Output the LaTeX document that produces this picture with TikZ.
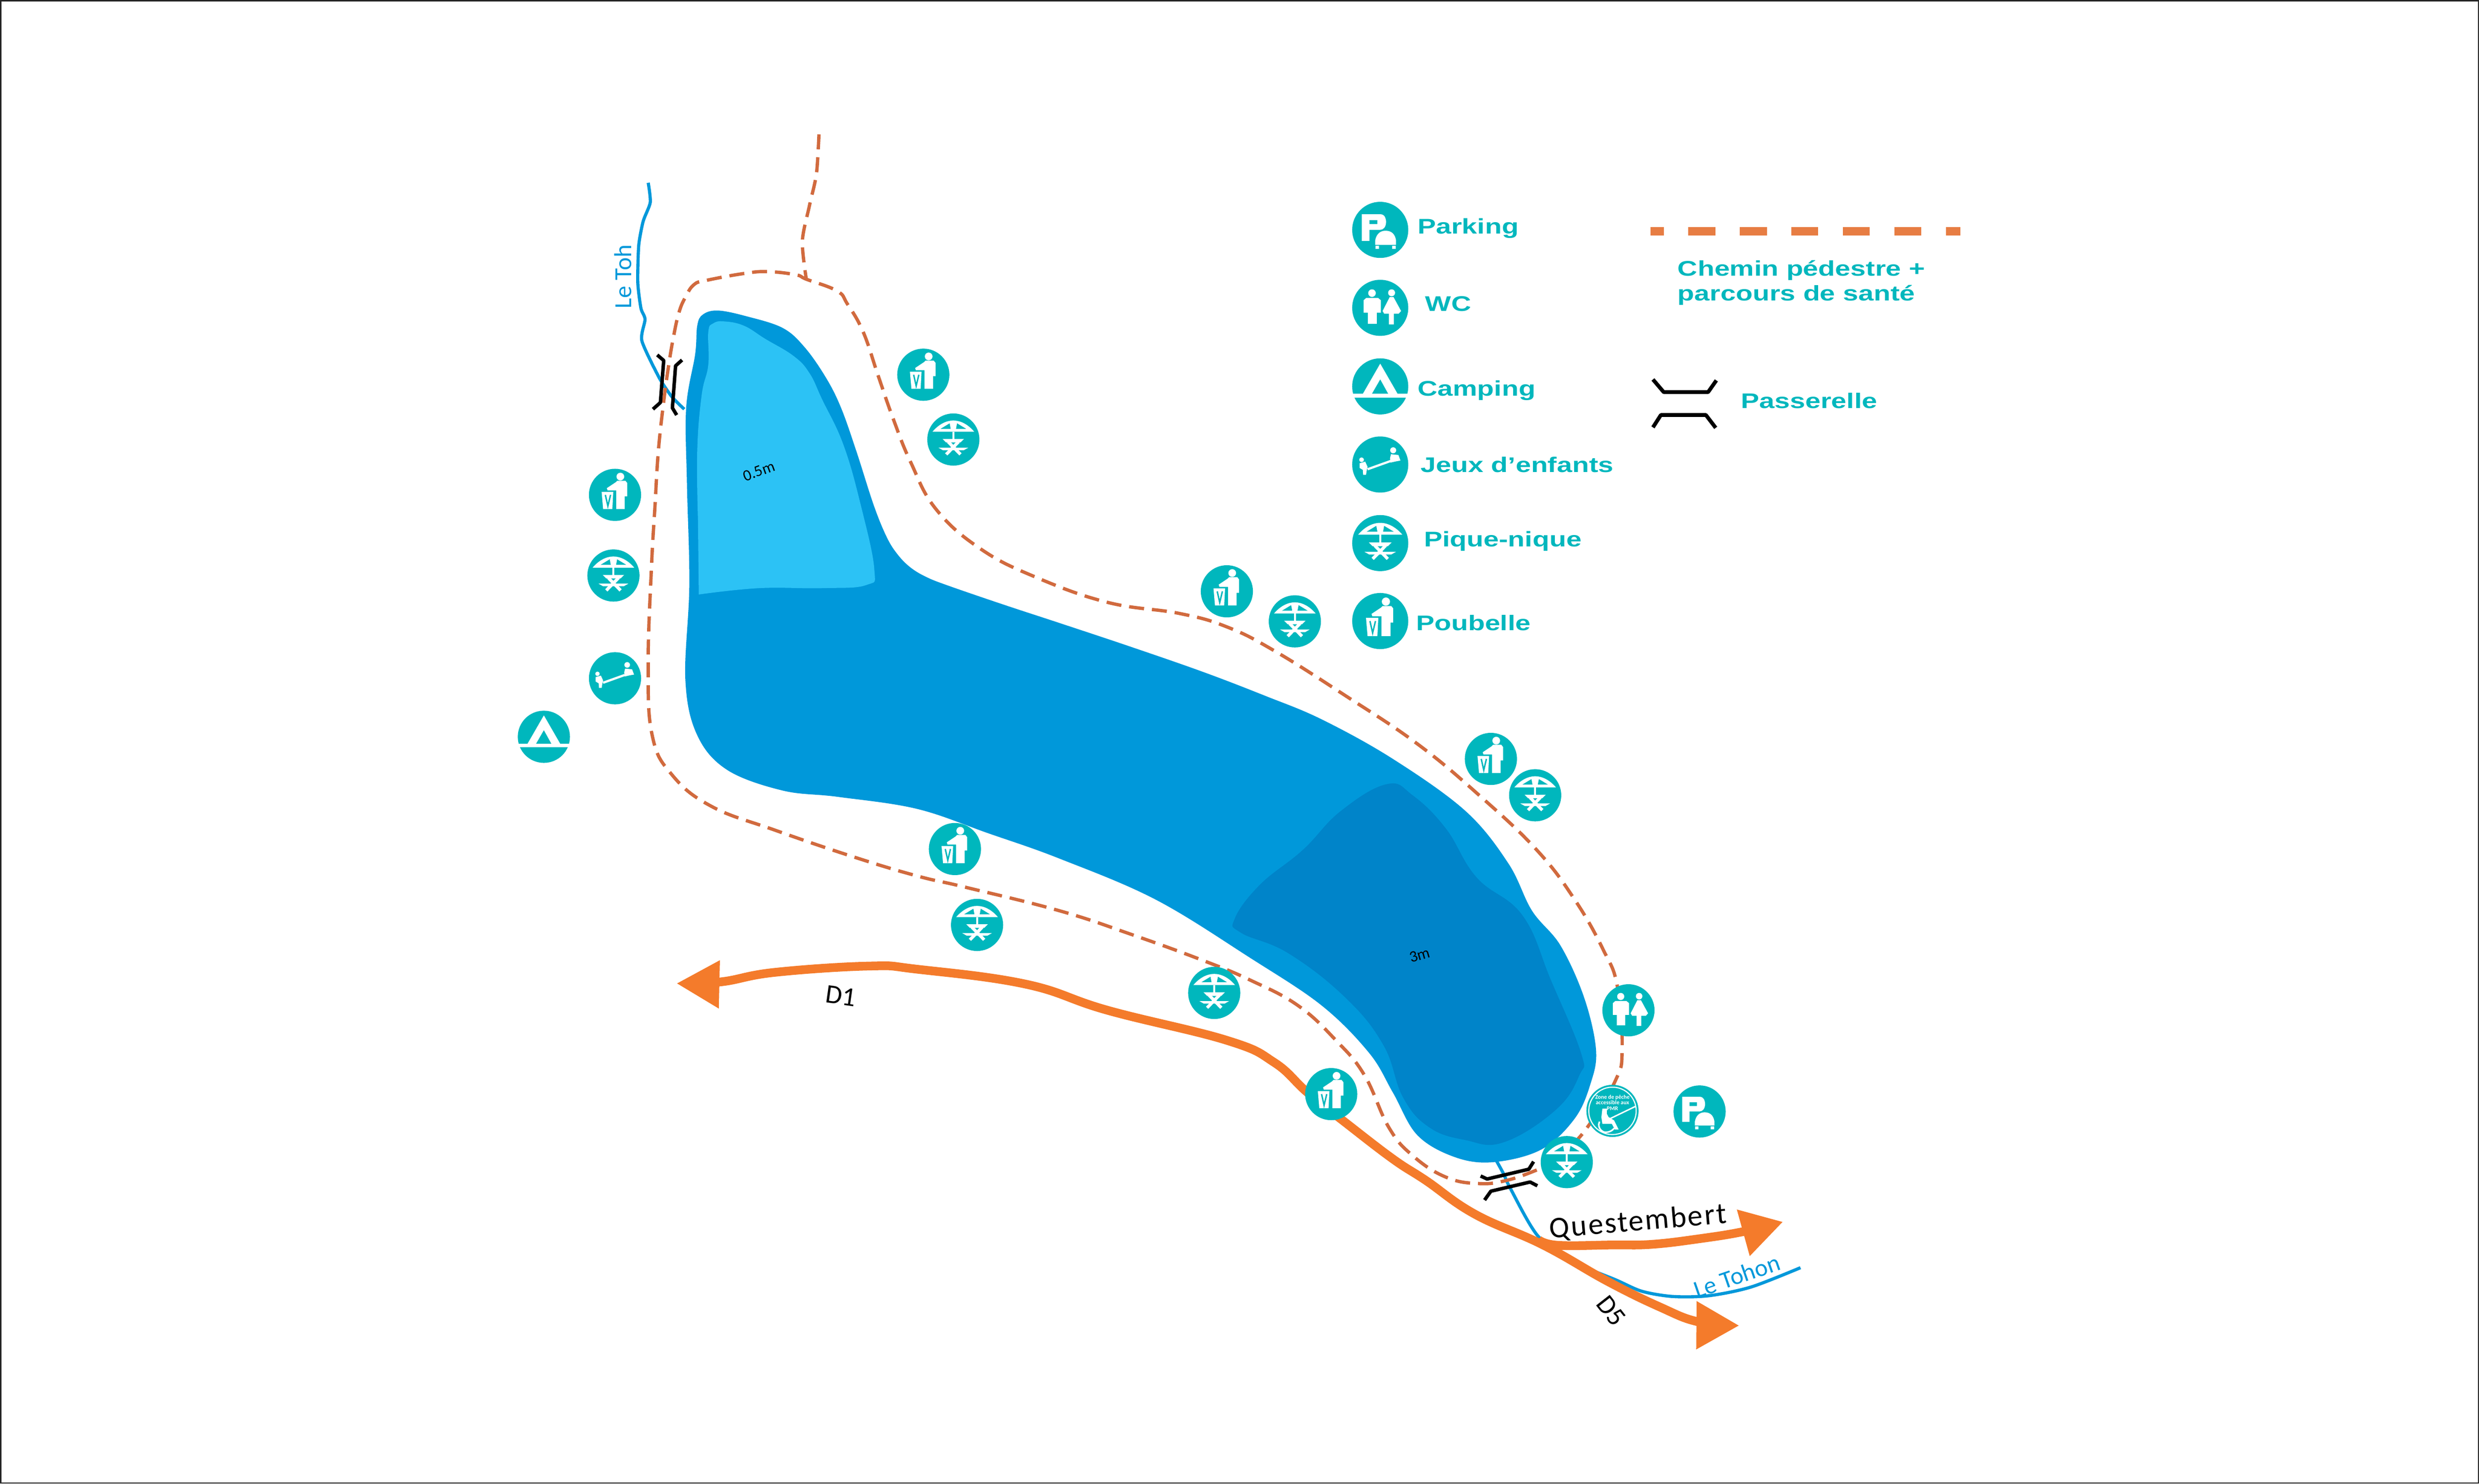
\documentclass[tikz,border=0pt]{standalone}
\usepackage{fontspec}
\usetikzlibrary{arrows.meta}
\setmainfont{Carlito}
\newfontfamily\legendfont[FakeStretch=1.3]{Liberation Sans}
\definecolor{signteal}{HTML}{00B7BD}
\definecolor{lakeblue}{HTML}{0098DA}
\definecolor{lakedeep}{HTML}{0084C9}
\definecolor{lakeshallow}{HTML}{2CC2F5}
\definecolor{roadorange}{HTML}{F47B2B}
\definecolor{pathorange}{HTML}{D16A3E}
\definecolor{keyorange}{HTML}{E77D43}
\tikzstyle{sign} = [circle, fill=signteal, inner sep = 0pt, minimum size = 33pt]
\tikzstyle{keysign} = [circle, fill=signteal, inner sep = 0pt, minimum size = 35.5pt]
\tikzstyle{keytext} = [anchor=base west, inner sep = 0pt, text=signteal, font=\legendfont\bfseries\fontsize{13.4}{15}\selectfont]
\tikzstyle{maptext} = [inner sep = 0pt, text=black]
\tikzstyle{rivertext} = [inner sep = 0pt, text=lakeblue]
\tikzstyle{walkway} = [draw=pathorange, line width=2.1pt, dash pattern=on 9.5pt off 5pt]
\tikzstyle{river} = [draw=lakeblue, line width=2pt]
\tikzstyle{road} = [draw=roadorange, line width=5.5pt, line join=round]
\tikzstyle{bridge} = [draw=black, line width=2.2pt, line join=round]
\tikzset{
  glyphbin/.pic={
    \fill[white] (3.6,-12.3) circle (2.6);
    \fill[white] (-5.5,-4.5) -- (0.5,-8.5) -- (1.5,-9.5) -- (7,-9.5) -- (8.2,-8) -- (8.2,1) -- (6.5,1) -- (6.5,9.5) -- (0.8,9.5) -- (0.8,-3) -- (-5,-3) -- cycle;
    \fill[white] (-9,-2) -- (-1.2,-2) -- (-1.8,9.5) -- (-8,9.5) -- cycle;
    \draw[signteal, line width=0.9pt] (-6.5,0) -- (-4.8,7.5) -- (-3,0);
  },
  glyphpicnic/.pic={
    \fill[white] (-14,-5.3) .. controls (-10,-10) and (-5,-12.8) .. (0,-12.8) .. controls (5,-12.8) and (10,-10) .. (14,-5.3) -- cycle;
    \fill[signteal] (-8.6,-7.2) -- (-2.5,-10.9) -- (-1.8,-7.2) -- cycle;
    \fill[signteal] (8.6,-7.2) -- (2.5,-10.9) -- (1.8,-7.2) -- cycle;
    \fill[white] (-0.7,-5.3) rectangle (0.7,0);
    \fill[white] (-7.2,-0.4) -- (7.2,-0.4) -- (4.8,2) -- (-4.8,2) -- cycle;
    \fill[white] (-10,5.5) -- (10,5.5) -- (7,7.2) -- (-7,7.2) -- cycle;
    \draw[white, line width=2pt] (-3.5,1.5) -- (4.8,10) (3.5,1.5) -- (-4.8,10);
  },
  glyphpark/.pic={
    \fill[white, even odd rule] (-11.7,-9.9) -- (0,-9.9) .. controls (3,-9.9) and (3.7,-7) .. (3.7,-5) .. controls (3.7,-2) and (2,0) .. (0,0) -- (-6.8,0) -- (-6.8,7) -- (-11.7,7) -- cycle (-6.8,-6.2) rectangle (-1.8,-3.7);
    \filldraw[white, draw=signteal, line width=1pt] (-3.7,10) -- (-3.7,6.5) .. controls (-3,3) and (-1,0) .. (3.4,0) .. controls (8,0) and (10,3) .. (10.5,6.5) -- (10.5,10) -- cycle;
    \fill[white] (-3,10) rectangle (-0.8,12) (7.5,10) rectangle (9.8,12);
  },
  glyphwc/.pic={
    \fill[white] (-5.2,-9.3) circle (2.4) (7.2,-9.5) circle (2.2);
    \fill[white] (-8.8,-6.3) -- (-1.4,-6.3) -- (0.4,-4.8) -- (0.4,3.1) -- (-2.2,3.1) -- (-2.2,10.1) -- (-7.8,10.1) -- (-7.8,3.1) -- (-10.5,3.1) -- (-10.5,-4.8) -- cycle;
    \fill[white] (6,-6.8) -- (8.4,-6.8) -- (13.2,2) -- (11.7,3.7) -- (8.6,3.7) -- (8.6,10.5) -- (5.5,10.5) -- (5.5,3.7) -- (2.5,3.7) -- (1.5,2) -- cycle;
  },
  glyphcamp/.pic={
    \fill[white, even odd rule] (0,-14.4) -- (11,4.7) -- (-11,4.7) -- cycle (0,-4.5) -- (5.1,4.7) -- (-5.3,4.7) -- cycle;
    \fill[white] (-18,4.7) rectangle (18,7.1);
  },
  glyphplay/.pic={
    \draw[white, line width=1.4pt] (-8,3) -- (6.5,-2.2);
    \fill[white] (-11.8,-3) circle (1.5);
    \fill[white] (-13,-0.8) -- (-9.5,-1.8) -- (-8,1.5) -- (-8.6,4) -- (-9,6.5) -- (-10.8,6.5) -- (-11,3.4) -- (-13,2.2) -- cycle;
    \fill[white] (8.2,-9) circle (1.9);
    \fill[white] (6.8,-6.5) -- (11.5,-6) -- (12.8,-2.5) -- (10,-2) -- (6.5,-1.2) -- (6.2,-4) -- cycle;
  },
  glyphfish/.pic={
    \draw[white, line width=0.7pt] (0,0) circle (15);
    \node[inner sep=0pt, text=white, align=center, font=\bfseries\fontsize{3.6}{3.6}\selectfont] (-words) at (0,-5.2) {Zone de p\^eche\\accessible aux\\PMR};
    \fill[white] (-6.4,-1.4) -- (-3.6,-1.4) -- (-3.6,1.8) -- (-2.5,3.9) -- (1,6) -- (3.9,11.8) -- (1.5,11.8) -- (-0.4,8.2) -- (-6.4,8.2) -- (-7,4) -- cycle;
    \draw[white, line width=1pt] (-8.2,6.8) .. controls (-10,11) and (-6,14) .. (-3.9,13.5) .. controls (-2,13.5) and (0,12.5) .. (1.1,11);
    \draw[white, line width=0.9pt] (-2.5,5.4) -- (14.7,-2.9);
  }
}
\begin{document}
\begin{tikzpicture}[x=1pt, y=-1pt]
	\useasboundingbox (0,0) rectangle (1568,938.3);
	\draw[black!85, line width=0.8pt] (0.4,0.4) rectangle (1567.6,937.9);

	% lake
	\fill[lakeblue] plot[smooth cycle, tension=0.6] coordinates {(454,196.4) (472,200) (495,207.4) (509,219.7) (522.5,239) (532,258) (541.7,285.5) (552.7,319.7) (561,340) (568,351) (576,359) (586,365) (600,370.5) (635,382.5) (670,394) (715,409) (761,425) (800,440) (836,455) (881,480) (927,513) (954,546) (969,576) (987,598) (1002,631) (1009.5,664) (1006,685.5) (996,707.5) (975,727) (945,735) (920.6,732) (896.5,718) (881,691) (866,666) (836,636) (791,606) (731,569) (670,543) (625,527) (580,511.6) (530,504) (495,500) (460,487) (441,465) (433.5,430) (436,370) (434.5,306) (434,258) (439.7,224) (441,206) (444.5,199)};
	\fill[lakeshallow] plot[smooth, tension=0.7] coordinates {(442,376) (480,372) (520,372) (548,370) (553,360) (544.5,319.7) (533.5,281.4) (520,252.6) (512,236) (502,225.2) (484,214.3) (470.5,206) (458,203.3) (451,204.6) (448,210) (448,230.7) (443.8,250) (441,285.5) (441.5,330)} -- cycle;
	\fill[lakedeep] plot[smooth cycle, tension=0.7] coordinates {(877,496) (893.5,503) (914.5,524) (934,555) (963,579) (981,620) (1000,666) (999,680) (984,702) (951,722.5) (926.6,721) (904,713) (887.4,694) (875,661) (851,631) (815,603) (785,590) (781,581) (797,559.5) (824,537.6) (848,513)};

	% rivers
	\draw[river] plot[smooth, tension=0.4] coordinates {(410,115.6) (411.3,128) (406.8,140) (404,155.3) (403.4,178.6) (405.4,195) (408,202) (406,215.6) (417,239) (425,251) (432.8,258.8)};
	\draw[river] plot[smooth, tension=0.5] coordinates {(946.4,734) (951,742.4) (955.5,752) (972.7,781.7) (995,798) (1022,809.5) (1038.5,816.7) (1058,820) (1081,819.5) (1107.6,814) (1138.8,801.8)};

	% footpath
	\draw[walkway] plot[smooth, tension=0.7] coordinates {(972,740) (953.7,746.4) (935.6,748.6) (914.5,744.5) (893.4,730.8) (878.4,713) (863,680) (845,658) (821,636) (791,620) (761,607.5) (715.6,591) (670,576) (610,561) (580,554) (540,542) (490,525) (450,510) (425,490) (412.5,465) (410,420) (412,360) (414.3,319.7) (416.4,285.5) (419.8,254) (423,230.7) (426,213) (429.4,197.8) (433.5,188) (439,180) (447,177.3) (470.5,173) (485.5,171.8) (503.4,173.8) (510,176.6) (529.4,184) (536,192.3) (546,210) (555.4,237.5) (565,265) (576,292.3) (592,322) (620,347) (655,365) (700.6,381) (746,388) (776,396.5) (806,411.6) (851,440) (896.5,470.5) (935.6,503) (972,537.6) (996,569) (1014,600.6) (1023,624) (1026,663.6) (1021.5,684) (1002,715.7) (985,732)};
	\draw[walkway] plot[smooth, tension=0.5] coordinates {(518,85) (516.4,110) (512,130) (507.5,152.6) (510,176.6)};

	% roads
	\draw[road, {Triangle[length=27pt,width=29pt]}-{Triangle[length=27pt,width=29pt]}] plot[smooth, tension=0.7] coordinates {(428,622) (456,621) (490,615) (550,611) (580,613) (649,622.5) (700.6,639) (776,658) (806,672) (827,691) (851,710) (881,733) (902,746.7) (933,768) (976,787.4) (1017,810.5) (1050,826.7) (1074,836) (1100,838.4)};
	\draw[road, -{Triangle[length=26pt,width=29pt]}] plot[smooth, tension=0.7] coordinates {(973,784) (985,787.6) (1020,787.4) (1045,787) (1074.7,783.5) (1102.5,779) (1127.7,772.8)};

	% bridges
	\draw[bridge] (415.7,224.5) -- (419.8,228) -- (417.7,254.6) -- (413,258.8);
	\draw[bridge] (431.4,227.7) -- (427.3,231.4) -- (425.3,258) -- (428,262.5);
	\draw[bridge] (936.5,743.8) -- (940.6,745.7) -- (967,739.5) -- (970,734.7);
	\draw[bridge] (939,759) -- (943,753.4) -- (967.8,747.6) -- (972.4,750);

	% signs on the map
	\foreach \n/\x/\y in {a/584/237, b/389/313, c/776/374, d/943/480, e/604/537, f/842/692} {
		\node [sign] (bin\n) at (\x,\y) {};
		\pic[scale=0.94] at (bin\n) {glyphbin};
	}
	\foreach \n/\x/\y in {a/603/278, b/388/364, c/819/393, d/971/503, e/618/585, f/768/628, g/991/735} {
		\node [sign] (picnic\n) at (\x,\y) {};
		\pic[scale=0.94] at (picnic\n) {glyphpicnic};
	}
	\node [sign] (parka) at (1075,703) {};
	\pic[scale=0.94] at (parka) {glyphpark};
	\node [sign] (wca) at (1030,639) {};
	\pic[scale=0.94] at (wca) {glyphwc};
	\node [sign] (campa) at (344,466) {};
	\pic[scale=0.94] at (campa) {glyphcamp};
	\node [sign] (playa) at (389,429) {};
	\pic[scale=0.94] at (playa) {glyphplay};
	\node [sign] (fish) at (1019.9,702.6) {};
	\pic (fishing) at (fish) {glyphfish};

	% legend
	\node [keysign] (keypark) at (873,145.4) {};
	\pic at (keypark) {glyphpark};
	\node [keysign] (keywc) at (873,194.7) {};
	\pic at (keywc) {glyphwc};
	\node [keysign] (keycamp) at (873,244.4) {};
	\pic at (keycamp) {glyphcamp};
	\node [keysign] (keyplay) at (873,293.8) {};
	\pic at (keyplay) {glyphplay};
	\node [keysign] (keypicnic) at (873,343.5) {};
	\pic at (keypicnic) {glyphpicnic};
	\node [keysign] (keybin) at (873,392.8) {};
	\pic at (keybin) {glyphbin};
	\node [keytext] (parking) at (896.5,148) {Parking};
	\node [keytext] (wclabel) at (901.3,196.7) {WC};
	\node [keytext] (camping) at (896.5,250.5) {Camping};
	\node [keytext] (jeux) at (898.5,298.8) {Jeux d’enfants};
	\node [keytext] (piquenique) at (900.5,345.6) {Pique-nique};
	\node [keytext] (poubelle) at (895.5,398.6) {Poubelle};
	\node [keytext] (chemin) at (1061,174.4) {Chemin pédestre +};
	\node [keytext] (parcours) at (1061,190.3) {parcours de santé};
	\node [keytext] (passerelle) at (1101,258.3) {Passerelle};
	\coordinate (keystart) at (1043.9,146.4);
	\coordinate (keyend) at (1240,146.4);
	\draw[keyorange, line width=5.3pt, dash pattern=on 17pt off 15.6pt, dash phase=8.6pt] (keystart) -- (keyend);
	\draw[bridge, line width=2.4pt] (1045.5,240) -- (1052.3,248) -- (1080.4,248) -- (1085.6,240.6);
	\draw[bridge, line width=2.4pt] (1045.5,270.3) -- (1050.5,262.5) -- (1079,262.5) -- (1085.2,270.6);

	% labels
	\node [rivertext, rotate=90, font=\fontsize{15.5}{18}\selectfont] (letoh) at (394,175) {Le Toh};
	\node [rivertext, rotate=19, font=\fontsize{15.5}{18}\selectfont] (letohon) at (1098.5,807) {Le Tohon};
	\node [maptext, rotate=20, font=\fontsize{10}{12}\selectfont] (shallow) at (480,298) {0.5m};
	\node [maptext, rotate=16, font=\fontsize{10}{12}\selectfont] (deep) at (898,604) {3m};
	\node [maptext, rotate=-8, font=\fontsize{17}{20}\selectfont] (dun) at (532,630) {D1};
	\node [maptext, rotate=-52, font=\fontsize{17}{20}\selectfont] (dcinq) at (1019,829) {D5};
	\node [maptext, rotate=5, font={\addfontfeatures{LetterSpace=5}\fontsize{19}{22}\selectfont}] (questembert) at (1036,773) {Questembert};
\end{tikzpicture}
\end{document}
